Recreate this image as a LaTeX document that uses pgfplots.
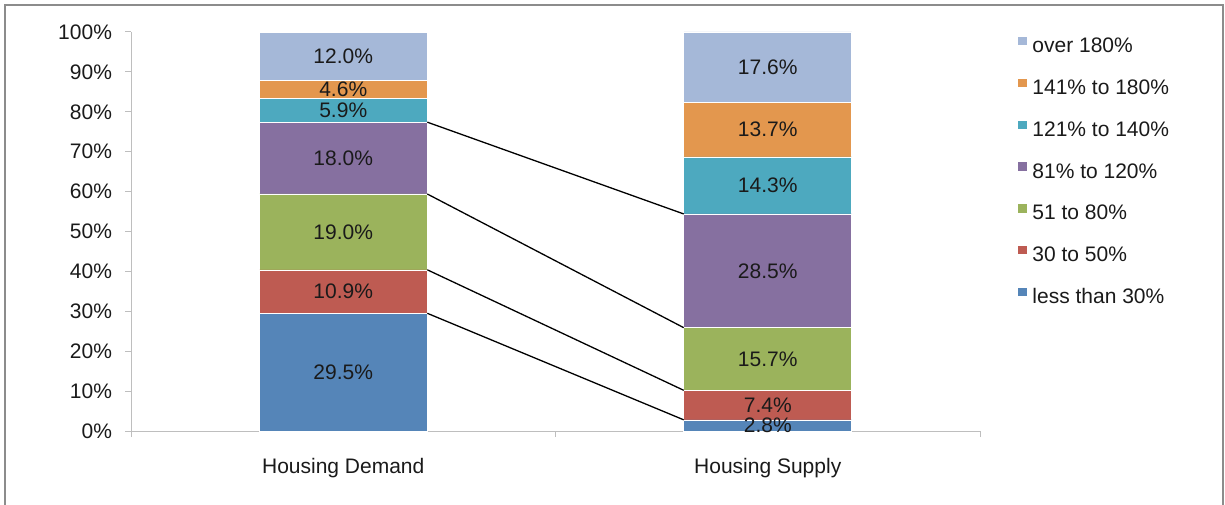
\documentclass[border=0pt]{standalone}
\usepackage{pgfplots}
\pgfplotsset{compat=1.18}
\usepackage{fontspec}
\setmainfont{Liberation Sans}

\definecolor{cBlue}{RGB}{85,133,184}
\definecolor{cRed}{RGB}{190,91,82}
\definecolor{cGreen}{RGB}{155,179,92}
\definecolor{cPurple}{RGB}{134,112,160}
\definecolor{cTeal}{RGB}{77,169,191}
\definecolor{cOrange}{RGB}{227,151,78}
\definecolor{cLight}{RGB}{165,184,216}
\definecolor{axisgray}{RGB}{190,190,190}
\definecolor{txt}{RGB}{26,26,26}

\begin{document}
\begin{tikzpicture}
\useasboundingbox (0pt,0pt) rectangle (612.5pt,252pt);
\draw[gray!90, line width=1pt] (2.25pt,-5pt) -- (2.25pt,249.25pt) -- (611.5pt,249.25pt) -- (611.5pt,-5pt);

% stacked bars
\begin{axis}[
    at={(65.5pt,36.5pt)}, anchor=south west,
    scale only axis, width=424.5pt, height=199.5pt,
    ybar stacked, bar width=84pt,
    xmin=-0.5, xmax=1.5, ymin=0, ymax=100,
    axis x line=bottom, axis y line=left,
    axis line style={-, draw=axisgray, line width=0.5pt},
    tick style={draw=axisgray, line width=0.5pt},
    tick align=outside, major tick length=3pt,
    xtick={-0.5,0.5,1.5}, xticklabels={},
    extra x ticks={0,1},
    extra x tick labels={Housing Demand,Housing Supply},
    extra x tick style={major tick length=0pt, xticklabel style={yshift=-10pt}},
    ytick={0,10,...,100},
    yticklabel={\pgfmathprintnumber{\tick}\%},
    yticklabel style={xshift=-3pt},
    /pgf/number format/assume math mode=true,
    tick label style={font=\fontsize{10.5}{12.5}\selectfont, text=txt},
    reverse legend,
    legend style={draw=none, fill=none, at={(1.037,1.003)}, anchor=north west,
        font=\fontsize{10.5}{12.5}\selectfont, text=txt,
        row sep=9.2pt, column sep=1.5pt,
        nodes={inner sep=1pt, text height=7.7pt, text depth=2pt}},
    legend cell align=left,
    legend image code/.code={\fill[#1, draw=none] (0pt,0.8pt) rectangle (4.8pt,5pt);},
]
\addplot[fill=cBlue, draw=white, line width=0.3pt] coordinates {(0,29.5) (1,2.8)};
\addlegendentry{less than 30\%}
\addplot[fill=cRed, draw=white, line width=0.3pt] coordinates {(0,10.9) (1,7.4)};
\addlegendentry{30 to 50\%}
\addplot[fill=cGreen, draw=white, line width=0.3pt] coordinates {(0,19.0) (1,15.7)};
\addlegendentry{51 to 80\%}
\addplot[fill=cPurple, draw=white, line width=0.3pt] coordinates {(0,18.0) (1,28.5)};
\addlegendentry{81\% to 120\%}
\addplot[fill=cTeal, draw=white, line width=0.3pt] coordinates {(0,5.9) (1,14.3)};
\addlegendentry{121\% to 140\%}
\addplot[fill=cOrange, draw=white, line width=0.3pt] coordinates {(0,4.6) (1,13.7)};
\addlegendentry{141\% to 180\%}
\addplot[fill=cLight, draw=white, line width=0.3pt] coordinates {(0,12.0) (1,17.6)};
\addlegendentry{over 180\%}
\end{axis}

% series lines and value labels
\begin{axis}[
    at={(65.5pt,36.5pt)}, anchor=south west,
    scale only axis, width=424.5pt, height=199.5pt,
    xmin=-0.5, xmax=1.5, ymin=0, ymax=100,
    axis lines=none, clip=false,
]
\addplot[black, line width=0.65pt] coordinates {(0.198,29.5) (0.802,2.8)};
\addplot[black, line width=0.65pt] coordinates {(0.198,40.4) (0.802,10.2)};
\addplot[black, line width=0.65pt] coordinates {(0.198,59.4) (0.802,25.9)};
\addplot[black, line width=0.65pt] coordinates {(0.198,77.4) (0.802,54.4)};
\addplot[draw=none, mark=none, point meta=explicit,
    nodes near coords={\pgfmathprintnumber[fixed, fixed zerofill, precision=1, assume math mode=true]{\pgfplotspointmeta}\%},
    every node near coord/.append style={anchor=center, inner sep=0pt, text=txt, font=\fontsize{10.5}{12.5}\selectfont}]
    coordinates {
    (0,14.75) [29.5] (0,34.95) [10.9] (0,49.9) [19.0] (0,68.4) [18.0]
    (0,80.35) [5.9] (0,85.6) [4.6] (0,93.9) [12.0]
    (1,1.4) [2.8] (1,6.5) [7.4] (1,18.05) [15.7] (1,40.15) [28.5]
    (1,61.55) [14.3] (1,75.55) [13.7] (1,91.2) [17.6]};
\end{axis}
\end{tikzpicture}
\end{document}
